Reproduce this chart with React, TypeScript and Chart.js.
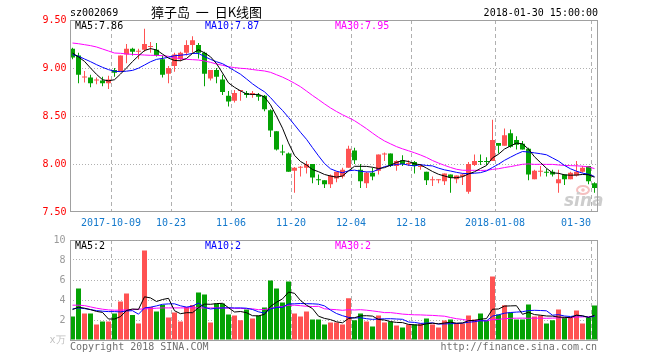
import React, { useEffect, useRef } from 'react';
import { Chart, registerables } from 'chart.js';

Chart.register(...registerables);

const DATES = [
  '2017-09-21', '2017-09-22', '2017-09-25', '2017-09-26', '2017-09-27', '2017-09-28', '2017-09-29', '2017-10-09', '2017-10-10', '2017-10-11',
  '2017-10-12', '2017-10-13', '2017-10-16', '2017-10-17', '2017-10-18', '2017-10-19', '2017-10-20', '2017-10-23', '2017-10-24', '2017-10-25',
  '2017-10-26', '2017-10-27', '2017-10-30', '2017-10-31', '2017-11-01', '2017-11-02', '2017-11-03', '2017-11-06', '2017-11-07', '2017-11-08',
  '2017-11-09', '2017-11-10', '2017-11-13', '2017-11-14', '2017-11-15', '2017-11-16', '2017-11-17', '2017-11-20', '2017-11-21', '2017-11-22',
  '2017-11-23', '2017-11-24', '2017-11-27', '2017-11-28', '2017-11-29', '2017-11-30', '2017-12-01', '2017-12-04', '2017-12-05', '2017-12-06',
  '2017-12-07', '2017-12-08', '2017-12-11', '2017-12-12', '2017-12-13', '2017-12-14', '2017-12-15', '2017-12-18', '2017-12-19', '2017-12-20',
  '2017-12-21', '2017-12-22', '2017-12-25', '2017-12-26', '2017-12-27', '2017-12-28', '2017-12-29', '2018-01-02', '2018-01-03', '2018-01-04',
  '2018-01-05', '2018-01-08', '2018-01-09', '2018-01-10', '2018-01-11', '2018-01-12', '2018-01-15', '2018-01-16', '2018-01-17', '2018-01-18',
  '2018-01-19', '2018-01-22', '2018-01-23', '2018-01-24', '2018-01-25', '2018-01-26', '2018-01-29', '2018-01-30',
];

const OPEN = [
  9.20, 9.13, 8.90, 8.90, 8.87, 8.87, 8.84, 8.98, 8.96, 9.14,
  9.20, 9.17, 9.19, 9.22, 9.19, 9.09, 8.94, 9.02, 9.09, 9.16,
  9.24, 9.24, 9.16, 8.89, 8.98, 8.88, 8.71, 8.66, 8.76, 8.74,
  8.72, 8.72, 8.71, 8.56, 8.34, 8.13, 8.11, 7.93, 7.96, 7.96,
  8.00, 7.84, 7.83, 7.79, 7.85, 7.87, 7.96, 8.14, 7.94, 7.80,
  7.91, 7.93, 8.10, 8.11, 7.98, 8.04, 8.00, 8.02, 7.97, 7.92,
  7.83, 7.83, 7.82, 7.89, 7.84, 7.87, 7.71, 7.99, 8.03, 8.03,
  8.03, 8.22, 8.19, 8.32, 8.25, 8.21, 8.16, 7.84, 7.92, 7.92,
  7.92, 7.80, 7.89, 7.84, 7.88, 7.92, 7.98, 7.80,
];
const HIGH = [
  9.21, 9.16, 8.97, 8.93, 8.90, 8.91, 8.92, 9.00, 9.13, 9.25,
  9.21, 9.20, 9.41, 9.27, 9.26, 9.13, 9.02, 9.16, 9.17, 9.29,
  9.33, 9.26, 9.17, 8.98, 9.00, 8.93, 8.76, 8.77, 8.77, 8.76,
  8.76, 8.74, 8.72, 8.57, 8.34, 8.20, 8.12, 7.97, 7.98, 8.03,
  8.00, 7.89, 7.83, 7.89, 7.92, 7.96, 8.19, 8.17, 8.00, 7.92,
  7.96, 8.10, 8.12, 8.11, 8.04, 8.09, 8.04, 8.03, 8.00, 7.92,
  7.87, 7.84, 7.90, 7.89, 7.88, 7.90, 8.02, 8.10, 8.10, 8.07,
  8.46, 8.22, 8.37, 8.36, 8.29, 8.24, 8.17, 7.94, 7.98, 7.95,
  7.94, 7.94, 7.89, 7.92, 8.03, 7.98, 7.98, 7.81,
];
const LOW = [
  9.09, 8.84, 8.85, 8.80, 8.83, 8.81, 8.78, 8.91, 8.96, 9.05,
  9.13, 9.09, 9.17, 9.16, 9.12, 8.90, 8.84, 8.96, 9.07, 9.13,
  9.16, 9.10, 8.81, 8.87, 8.84, 8.72, 8.60, 8.64, 8.66, 8.69,
  8.69, 8.66, 8.55, 8.28, 8.14, 8.09, 7.92, 7.70, 7.87, 7.90,
  7.80, 7.78, 7.75, 7.75, 7.81, 7.85, 7.96, 8.00, 7.75, 7.75,
  7.83, 7.89, 8.03, 7.97, 7.93, 7.98, 7.98, 7.90, 7.94, 7.78,
  7.77, 7.80, 7.78, 7.70, 7.80, 7.78, 7.69, 7.98, 7.99, 7.99,
  8.03, 8.11, 8.19, 8.17, 8.15, 8.15, 7.83, 7.84, 7.87, 7.87,
  7.87, 7.70, 7.78, 7.84, 7.87, 7.91, 7.79, 7.70,
];
const CLOSE = [
  9.11, 8.93, 8.91, 8.84, 8.88, 8.84, 8.88, 8.95, 9.13, 9.20,
  9.17, 9.18, 9.25, 9.23, 9.13, 8.93, 9.00, 9.14, 9.16, 9.24,
  9.29, 9.16, 8.94, 8.98, 8.91, 8.75, 8.65, 8.74, 8.76, 8.72,
  8.74, 8.70, 8.57, 8.35, 8.15, 8.12, 7.92, 7.96, 7.97, 8.00,
  7.86, 7.83, 7.79, 7.88, 7.92, 7.94, 8.16, 8.04, 7.82, 7.91,
  7.87, 8.10, 8.11, 7.98, 8.03, 8.00, 8.00, 7.98, 7.98, 7.83,
  7.83, 7.83, 7.90, 7.86, 7.88, 7.89, 8.00, 8.03, 8.02, 8.02,
  8.25, 8.19, 8.30, 8.18, 8.20, 8.15, 7.89, 7.93, 7.93, 7.91,
  7.89, 7.84, 7.84, 7.91, 7.92, 7.96, 7.82, 7.75,
];

const MA5 = [
  9.156, 9.115, 9.069, 9.000, 8.934, 8.878, 8.866, 8.878, 8.937, 9.000,
  9.067, 9.127, 9.182, 9.202, 9.188, 9.145, 9.103, 9.078, 9.076, 9.099,
  9.152, 9.190, 9.158, 9.117, 9.046, 8.948, 8.845, 8.799, 8.762, 8.730,
  8.724, 8.725, 8.698, 8.617, 8.499, 8.373, 8.220, 8.090, 8.026, 7.990,
  7.942, 7.920, 7.891, 7.875, 7.863, 7.875, 7.928, 7.976, 7.976, 7.975,
  7.966, 7.953, 7.962, 7.988, 8.016, 8.037, 8.026, 8.002, 7.992, 7.957,
  7.922, 7.893, 7.875, 7.857, 7.857, 7.868, 7.896, 7.919, 7.953, 7.984,
  8.064, 8.102, 8.156, 8.188, 8.218, 8.210, 8.155, 8.075, 8.015, 7.955,
  7.908, 7.903, 7.887, 7.883, 7.885, 7.891, 7.888, 7.862,
];
const MA10 = [
  9.139, 9.122, 9.094, 9.066, 9.035, 9.007, 8.983, 8.966, 8.962, 8.967,
  8.975, 8.998, 9.031, 9.065, 9.090, 9.100, 9.112, 9.128, 9.133, 9.140,
  9.152, 9.152, 9.120, 9.090, 9.065, 9.045, 9.010, 8.972, 8.935, 8.886,
  8.835, 8.791, 8.752, 8.692, 8.622, 8.558, 8.485, 8.408, 8.330, 8.257,
  8.170, 8.085, 8.005, 7.950, 7.925, 7.909, 7.929, 7.936, 7.925, 7.917,
  7.919, 7.944, 7.973, 7.985, 7.995, 8.001, 7.988, 7.980, 7.993, 7.985,
  7.980, 7.957, 7.939, 7.927, 7.913, 7.902, 7.900, 7.904, 7.910, 7.928,
  7.964, 7.998, 8.038, 8.071, 8.103, 8.130, 8.125, 8.116, 8.107, 8.096,
  8.063, 8.030, 7.985, 7.950, 7.925, 7.905, 7.893, 7.870,
];
const MA30 = [
  9.260, 9.253, 9.243, 9.233, 9.219, 9.198, 9.177, 9.156, 9.153, 9.146,
  9.142, 9.139, 9.135, 9.132, 9.132, 9.128, 9.122, 9.108, 9.097, 9.090,
  9.087, 9.083, 9.073, 9.059, 9.042, 9.028, 9.014, 9.004, 8.997, 8.993,
  8.984, 8.976, 8.969, 8.955, 8.930, 8.905, 8.875, 8.841, 8.805, 8.760,
  8.714, 8.671, 8.626, 8.584, 8.547, 8.513, 8.483, 8.451, 8.410, 8.368,
  8.322, 8.278, 8.240, 8.210, 8.181, 8.158, 8.138, 8.117, 8.094, 8.068,
  8.036, 8.010, 7.986, 7.964, 7.945, 7.935, 7.934, 7.934, 7.933, 7.934,
  7.944, 7.951, 7.963, 7.973, 7.985, 7.997, 8.001, 7.996, 7.997, 7.996,
  7.996, 7.990, 7.985, 7.983, 7.981, 7.977, 7.970, 7.952,
];

// volume in 万手
const VOLUME = [
  2.34, 5.15, 2.64, 2.64, 1.54, 1.84, 1.84, 2.64, 3.85, 4.65,
  2.50, 1.64, 8.96, 3.31, 2.84, 3.51, 2.24, 2.74, 1.84, 3.31,
  3.51, 4.75, 4.55, 1.74, 3.65, 3.65, 2.54, 2.44, 1.97, 3.04,
  2.14, 2.44, 3.24, 5.95, 5.15, 3.75, 5.85, 2.64, 2.34, 2.84,
  2.04, 2.04, 1.54, 1.74, 1.74, 1.54, 4.18, 1.97, 2.64, 1.84,
  1.34, 2.44, 1.74, 1.84, 1.44, 1.24, 1.54, 1.54, 1.64, 2.14,
  1.54, 1.24, 1.94, 2.04, 1.64, 1.64, 2.44, 2.04, 2.64, 1.94,
  6.35, 2.54, 3.48, 2.74, 2.04, 2.04, 3.55, 2.34, 2.44, 1.64,
  1.97, 3.04, 2.24, 2.24, 2.94, 1.64, 2.24, 3.45,
];
const VMA5 = [
  3.04, 3.28, 3.18, 3.04, 2.86, 2.76, 2.10, 2.10, 2.34, 2.96,
  3.10, 3.06, 4.32, 4.21, 3.85, 4.05, 4.17, 2.93, 2.63, 2.73,
  2.73, 3.23, 3.59, 3.57, 3.64, 3.67, 3.23, 2.80, 2.85, 2.73,
  2.43, 2.41, 2.57, 3.36, 3.78, 4.11, 4.79, 4.67, 3.95, 3.48,
  3.14, 2.38, 2.16, 2.04, 1.82, 1.72, 2.15, 2.23, 2.41, 2.43,
  2.39, 2.05, 2.00, 1.84, 1.76, 1.74, 1.56, 1.52, 1.48, 1.62,
  1.68, 1.62, 1.70, 1.78, 1.68, 1.70, 1.94, 1.96, 2.08, 2.14,
  3.08, 3.10, 3.39, 3.41, 3.43, 2.57, 2.77, 2.54, 2.48, 2.40,
  2.39, 2.29, 2.27, 2.23, 2.49, 2.42, 2.26, 2.47,
];
const VMA10 = [
  3.11, 3.21, 3.14, 3.04, 2.94, 2.88, 2.84, 2.84, 2.81, 2.91,
  2.93, 2.58, 3.21, 3.28, 3.41, 3.57, 3.61, 3.62, 3.42, 3.29,
  3.39, 3.70, 3.26, 3.10, 3.18, 3.20, 3.23, 3.20, 3.21, 3.18,
  3.05, 2.82, 2.69, 3.11, 3.26, 3.27, 3.60, 3.62, 3.65, 3.63,
  3.62, 3.58, 3.41, 2.99, 2.65, 2.43, 2.26, 2.20, 2.23, 2.13,
  2.06, 2.10, 2.12, 2.13, 2.10, 2.07, 1.80, 1.76, 1.66, 1.69,
  1.71, 1.59, 1.61, 1.63, 1.65, 1.69, 1.78, 1.83, 1.93, 1.91,
  2.39, 2.52, 2.68, 2.75, 2.79, 2.83, 2.94, 2.97, 2.95, 2.92,
  2.48, 2.53, 2.40, 2.35, 2.44, 2.40, 2.27, 2.38,
];
const VMA30 = [
  3.48, 3.48, 3.44, 3.31, 3.18, 3.08, 3.01, 2.98, 2.98, 3.01,
  3.04, 3.08, 3.11, 3.14, 3.18, 3.21, 3.21, 3.21, 3.21, 3.21,
  3.21, 3.21, 3.21, 3.21, 3.21, 3.21, 3.18, 3.18, 3.16, 3.13,
  3.12, 3.03, 3.05, 3.16, 3.28, 3.35, 3.48, 3.48, 3.43, 3.37,
  3.35, 3.37, 3.12, 3.07, 3.03, 2.97, 3.03, 3.00, 3.03, 2.98,
  2.91, 2.83, 2.74, 2.74, 2.67, 2.59, 2.55, 2.52, 2.51, 2.48,
  2.46, 2.42, 2.38, 2.25, 2.13, 2.06, 1.95, 1.93, 1.94, 1.91,
  2.05, 2.07, 2.13, 2.17, 2.18, 2.19, 2.17, 2.19, 2.18, 2.17,
  2.19, 2.21, 2.23, 2.24, 2.29, 2.31, 2.33, 2.39,
];

const X_TICK_DATES = ['2017-10-09', '2017-10-23', '2017-11-06', '2017-11-20', '2017-12-04', '2017-12-18', '2018-01-08', '2018-01-30'];
const X_TICK_TEXT = ['2017-10-09', '10-23', '11-06', '11-20', '12-04', '12-18', '2018-01-08', '01-30'];
const PRICE_TICKS = [7.5, 8.0, 8.5, 9.0, 9.5];
const VOLUME_TICKS = [0, 2, 4, 6, 8, 10];

const STOCK_CODE = 'sz002069';
const TITLE = '獐子岛  一  日K线图';
const TIMESTAMP = '2018-01-30 15:00:00';
const COPYRIGHT = 'Copyright 2018 SINA.COM';
const SITE = 'http://finance.sina.com.cn';

const MONO = '"DejaVu Sans Mono", "Liberation Mono", monospace';
const UP = '#ff5252';
const DOWN = '#04a204';
const FRAME = '#a0a0a0';
const GRID = '#b0b0b0';
const C_MA5 = '#000000';
const C_MA10 = '#0000ff';
const C_MA30 = '#ff00ff';

const CANDLE_COLORS = OPEN.map((o, i) => (CLOSE[i] >= o ? UP : DOWN));

function xTickLabel(i: number): string {
  const k = X_TICK_DATES.indexOf(DATES[i]);
  if (k < 0) return '';
  // last label is pulled inside the frame
  return k === X_TICK_DATES.length - 1 ? X_TICK_TEXT[k] + '     ' : X_TICK_TEXT[k];
}
const xGridColor = (ctx: any) => (X_TICK_DATES.includes(DATES[ctx.index]) ? GRID : 'rgba(0,0,0,0)');

function lineDs(data: number[], color: string) {
  return {
    type: 'line' as const,
    data,
    borderColor: color,
    backgroundColor: color,
    borderWidth: 1,
    pointRadius: 0,
    pointHoverRadius: 0,
    tension: 0,
    fill: false,
    order: 0,
  };
}

function drawFrame(chart: any, bottomAdjust: number) {
  const { ctx, chartArea: a } = chart;
  ctx.save();
  ctx.strokeStyle = FRAME;
  ctx.lineWidth = 1;
  const x0 = Math.ceil(a.left) + 0.5;
  const x1 = Math.floor(a.right) + 0.5;
  const y0 = a.top + 0.5;
  const y1 = a.bottom + bottomAdjust;
  ctx.strokeRect(x0, y0, x1 - x0, y1 - y0);
  ctx.restore();
}

const mainDecor = {
  id: 'mainDecor',
  beforeDatasetsDraw(chart: any) {
    const { ctx } = chart;
    ctx.save();
    ctx.strokeStyle = '#f5c0c0';
    ctx.lineWidth = 2;
    ctx.beginPath();
    ctx.ellipse(583, 190, 6, 4, 0, 0, Math.PI * 2);
    ctx.stroke();
    ctx.fillStyle = '#f5c0c0';
    ctx.beginPath();
    ctx.arc(583, 190, 1.8, 0, Math.PI * 2);
    ctx.fill();
    ctx.fillStyle = '#cdcdcd';
    ctx.font = 'italic bold 17px "DejaVu Sans", sans-serif';
    ctx.textAlign = 'left';
    ctx.textBaseline = 'alphabetic';
    ctx.fillText('sina', 564, 206);
    ctx.restore();
  },
  afterDraw(chart: any) {
    drawFrame(chart, -0.5);
    const { ctx } = chart;
    ctx.save();
    ctx.textBaseline = 'middle';
    ctx.fillStyle = '#000';
    ctx.font = `10px ${MONO}`;
    ctx.textAlign = 'left';
    ctx.fillText(STOCK_CODE, 70, 13);
    ctx.font = '13px "Noto Sans CJK SC", sans-serif';
    ctx.fillText(TITLE, 151, 12.5);
    ctx.font = `10px ${MONO}`;
    ctx.textAlign = 'right';
    ctx.fillText(TIMESTAMP, 598, 13);
    ctx.textAlign = 'left';
    const n = MA5.length - 1;
    ctx.fillStyle = C_MA5;
    ctx.fillText('MA5:' + MA5[n].toFixed(2), 75, 26);
    ctx.fillStyle = C_MA10;
    ctx.fillText('MA10:' + MA10[n].toFixed(2), 205, 26);
    ctx.fillStyle = C_MA30;
    ctx.fillText('MA30:' + MA30[n].toFixed(2), 335, 26);
    ctx.restore();
  },
};

const volDecor = {
  id: 'volDecor',
  afterDraw(chart: any) {
    drawFrame(chart, 0.5);
    const { ctx } = chart;
    ctx.save();
    ctx.textBaseline = 'middle';
    ctx.font = `10px ${MONO}`;
    const n = VMA5.length - 1;
    ctx.textAlign = 'left';
    ctx.fillStyle = C_MA5;
    ctx.fillText('MA5:' + VMA5[n].toFixed(0), 75, 16.5);
    ctx.fillStyle = C_MA10;
    ctx.fillText('MA10:' + VMA10[n].toFixed(0), 205, 16.5);
    ctx.fillStyle = C_MA30;
    ctx.fillText('MA30:' + VMA30[n].toFixed(0), 335, 16.5);
    ctx.fillStyle = '#707070';
    ctx.fillText(COPYRIGHT, 70, 117);
    ctx.textAlign = 'right';
    ctx.fillText(SITE, 597, 117);
    ctx.restore();
  },
};

export default function App() {
  const mainRef = useRef<HTMLCanvasElement>(null);
  const volRef = useRef<HTMLCanvasElement>(null);

  useEffect(() => {
    Chart.defaults.font.family = MONO;
    const common: any = {
      responsive: false,
      animation: false,
      devicePixelRatio: 1,
      events: [],
      plugins: { legend: { display: false }, tooltip: { enabled: false } },
    };

    const main = new Chart(mainRef.current as HTMLCanvasElement, {
      type: 'bar',
      data: {
        labels: DATES,
        datasets: [
          lineDs(MA5, C_MA5),
          lineDs(MA10, C_MA10),
          lineDs(MA30, C_MA30),
          {
            type: 'bar',
            data: OPEN.map((o, i) => [o, CLOSE[i]]),
            backgroundColor: CANDLE_COLORS,
            borderWidth: 0,
            barThickness: 5,
            grouped: false,
            minBarLength: 1,
            inflateAmount: 0,
            order: 2,
          } as any,
          {
            type: 'bar',
            data: LOW.map((l, i) => [l, HIGH[i]]),
            backgroundColor: CANDLE_COLORS,
            borderWidth: 0,
            barThickness: 1,
            grouped: false,
            inflateAmount: 0,
            order: 3,
          } as any,
        ],
      },
      options: {
        ...common,
        layout: { padding: { left: 0, right: 62.5, top: 20, bottom: 0 } },
        scales: {
          x: {
            type: 'category',
            offset: true,
            grid: { offset: true, drawTicks: false, color: xGridColor, lineWidth: 1 },
            border: { display: false, dash: [4, 3] },
            ticks: {
              autoSkip: false,
              maxRotation: 0,
              minRotation: 0,
              padding: 5,
              labelOffset: -3.5,
              color: '#1479cc',
              font: { family: MONO, size: 10 },
              callback: (_v: any, i: number) => xTickLabel(i),
            },
            afterFit: (s: any) => { s.height = 18; },
          },
          y: {
            type: 'linear',
            min: 7.5,
            max: 9.5,
            afterBuildTicks: (s: any) => { s.ticks = PRICE_TICKS.map((v) => ({ value: v })); },
            grid: {
              drawTicks: false,
              color: (c: any) => (c.tick && (c.tick.value === 7.5 || c.tick.value === 9.5) ? 'rgba(0,0,0,0)' : GRID),
            },
            border: { display: false, dash: [1, 2] },
            ticks: {
              padding: 3,
              color: '#ff0000',
              font: { family: MONO, size: 10 },
              callback: (v: any) => Number(v).toFixed(2),
            },
            afterFit: (s: any) => { s.width = 69.5; },
          },
        },
      },
      plugins: [mainDecor],
    } as any);

    const vol = new Chart(volRef.current as HTMLCanvasElement, {
      type: 'bar',
      data: {
        labels: DATES,
        datasets: [
          lineDs(VMA5, C_MA5),
          lineDs(VMA10, C_MA10),
          lineDs(VMA30, C_MA30),
          {
            type: 'bar',
            data: VOLUME,
            backgroundColor: CANDLE_COLORS,
            borderWidth: 0,
            barThickness: 5,
            grouped: false,
            inflateAmount: 0,
            order: 2,
          } as any,
        ],
      },
      options: {
        ...common,
        layout: { padding: { left: 0, right: 62.5, top: 10, bottom: 20 } },
        scales: {
          x: {
            type: 'category',
            offset: true,
            grid: { offset: true, drawTicks: false, color: xGridColor, lineWidth: 1 },
            border: { display: false, dash: [4, 3] },
            ticks: { display: false },
            afterFit: (s: any) => { s.height = 0; },
          },
          y: {
            type: 'linear',
            min: 0,
            max: 10,
            afterBuildTicks: (s: any) => { s.ticks = VOLUME_TICKS.map((v) => ({ value: v })); },
            grid: {
              drawTicks: false,
              color: (c: any) => (c.tick && (c.tick.value === 0 || c.tick.value === 10) ? 'rgba(0,0,0,0)' : GRID),
            },
            border: { display: false, dash: [1, 2] },
            ticks: {
              padding: 4,
              color: (c: any) => (c.tick && c.tick.value === 0 ? '#c0c0c0' : '#9a9a9a'),
              font: { family: MONO, size: 10 },
              callback: (v: any) => (Number(v) === 0 ? 'x万' : String(v)),
            },
            afterFit: (s: any) => { s.width = 69.5; },
          },
        },
      },
      plugins: [volDecor],
    } as any);

    return () => {
      main.destroy();
      vol.destroy();
    };
  }, []);

  return (
    <div style={{ position: 'fixed', left: 0, top: 0, width: 660, height: 360, background: '#fff' }}>
      <canvas ref={mainRef} width={660} height={230} style={{ position: 'absolute', left: 0, top: 0, width: 660, height: 230 }} />
      <canvas ref={volRef} width={660} height={130} style={{ position: 'absolute', left: 0, top: 230, width: 660, height: 130 }} />
    </div>
  );
}
